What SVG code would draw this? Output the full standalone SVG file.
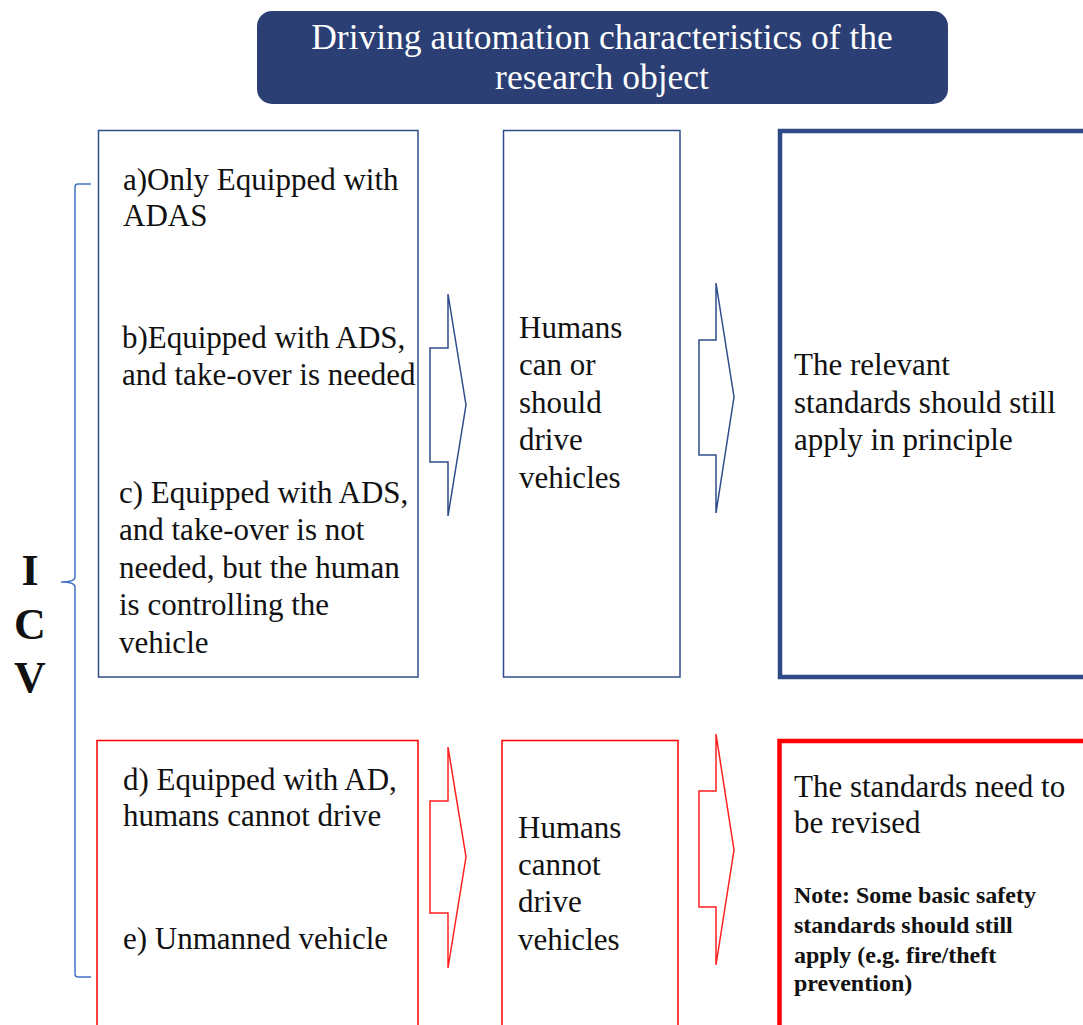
<svg xmlns="http://www.w3.org/2000/svg" width="1083" height="1025" viewBox="0 0 1083 1025">
<style>
.t{font-family:"Liberation Serif","DejaVu Serif",serif;font-size:31px;fill:#111}
.title{font-family:"Liberation Serif","DejaVu Serif",serif;font-size:35.5px;fill:#fff}
.note{font-family:"Liberation Serif","DejaVu Serif",serif;font-size:24px;font-weight:bold;fill:#111}
.icv{font-family:"Liberation Serif","DejaVu Serif",serif;font-size:44px;font-weight:bold;fill:#111}
.bb{fill:#fff;stroke:#2F4D8B;stroke-width:1.5}
.bt{fill:#fff;stroke:#2E4A86;stroke-width:4.5}
.rb{fill:#fff;stroke:#FF0000;stroke-width:1.5}
.rt{fill:#fff;stroke:#FF0000;stroke-width:4.5}
.ab{fill:#fff;stroke:#2F4D8B;stroke-width:1.5;stroke-linejoin:miter}
.ar{fill:#fff;stroke:#FF2020;stroke-width:1.5;stroke-linejoin:miter}
</style>
<rect width="1083" height="1025" fill="#fff"/>

<g id="title">
<rect x="257" y="11" width="691" height="93" rx="15" fill="#2B3F75"/>
<text class="title" x="602" y="49" text-anchor="middle">Driving automation characteristics of the</text>
<text class="title" x="602" y="89" text-anchor="middle">research object</text>
</g>

<g id="icv-bracket">
<path d="M91,184 H78 Q75,184 75,187 V577 Q75,582 61,582 Q75,582 75,587 V974 Q75,977 78,977 H91" fill="none" stroke="#4472C4" stroke-width="1.5"/>
<text class="icv" x="30" y="585" text-anchor="middle">I</text>
<text class="icv" x="30" y="639" text-anchor="middle">C</text>
<text class="icv" x="30" y="692" text-anchor="middle">V</text>
</g>

<g id="box-abc">
<rect class="bb" x="98.5" y="130.5" width="319.5" height="546.5"/>
<text class="t" x="123" y="190">a)Only Equipped with</text>
<text class="t" x="123" y="226">ADAS</text>
<text class="t" x="122" y="348">b)Equipped with ADS,</text>
<text class="t" x="122" y="385">and take-over is needed</text>
<text class="t" x="119" y="503">c) Equipped with ADS,</text>
<text class="t" x="119" y="540">and take-over is not</text>
<text class="t" x="119" y="578">needed, but the human</text>
<text class="t" x="119" y="615">is controlling the</text>
<text class="t" x="119" y="653">vehicle</text>
</g>

<g id="box-can-drive">
<rect class="bb" x="503.5" y="130.5" width="176.5" height="546.5"/>
<text class="t" x="519" y="338">Humans</text>
<text class="t" x="519" y="375">can or</text>
<text class="t" x="519" y="413">should</text>
<text class="t" x="519" y="450">drive</text>
<text class="t" x="519" y="488">vehicles</text>
</g>

<g id="box-standards-apply">
<rect class="bt" x="780" y="131" width="330" height="546"/>
<text class="t" x="794" y="375">The relevant</text>
<text class="t" x="794" y="413">standards should still</text>
<text class="t" x="794" y="450">apply in principle</text>
</g>

<g id="box-de">
<rect class="rb" x="97" y="740.5" width="321" height="300"/>
<text class="t" x="123" y="790">d) Equipped with AD,</text>
<text class="t" x="123" y="826">humans cannot drive</text>
<text class="t" x="123" y="949">e) Unmanned vehicle</text>
</g>

<g id="box-cannot-drive">
<rect class="rb" x="502" y="740.5" width="176" height="300"/>
<text class="t" x="518" y="838">Humans</text>
<text class="t" x="518" y="875">cannot</text>
<text class="t" x="518" y="912">drive</text>
<text class="t" x="518" y="950">vehicles</text>
</g>

<g id="box-revise">
<rect class="rt" x="779.5" y="741" width="330" height="300"/>
<text class="t" x="794" y="797">The standards need to</text>
<text class="t" x="794" y="833">be revised</text>
<text class="note" x="794" y="903">Note: Some basic safety</text>
<text class="note" x="794" y="933">standards should still</text>
<text class="note" x="794" y="963">apply (e.g. fire/theft</text>
<text class="note" x="794" y="991">prevention)</text>
</g>

<g id="connectors">
<path class="ab" d="M430,348 H448 V294 L466,405 L448,516 V462 H430 Z"/>
<path class="ab" d="M699,340 H716 V283 L734,397 L716,513 V455 H699 Z"/>
<path class="ar" d="M430,801 H448 V747 L466,857 L448,968 V913 H430 Z"/>
<path class="ar" d="M699,791 H716 V734 L734,850 L716,965 V907 H699 Z"/>
</g>
</svg>
